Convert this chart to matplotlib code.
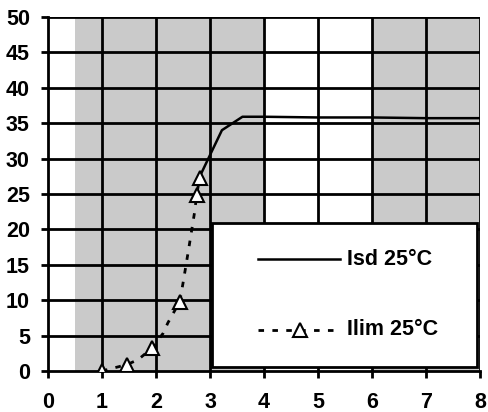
import matplotlib.pyplot as plt
from matplotlib.patches import Rectangle

plt.rcParams['font.family'] = ['Liberation Sans', 'DejaVu Sans']
plt.rcParams['font.weight'] = 'bold'

# Isd 25°C curve (solid)
isd_x = [2.8, 3.0, 3.22, 3.6, 4.0, 5.0, 6.0, 7.0, 8.0]
isd_y = [27.3, 30.5, 34.0, 35.9, 35.9, 35.8, 35.8, 35.7, 35.7]

# Ilim 25°C curve (dotted, triangles at measured points)
ilim_x = [1.0, 1.46, 1.67, 1.92, 2.13, 2.22, 2.44, 2.5, 2.6, 2.72, 2.75, 2.81]
ilim_y = [0.0, 0.9, 1.6, 3.2, 5.3, 6.8, 9.8, 12.4, 17.0, 22.7, 24.8, 27.3]
ilim_marks = [0, 1, 3, 6, 10, 11]

# shaded bands on the background
bands = [(0.5, 4.0), (6.0, 8.0)]

xticks = list(range(0, 9))
yticks = list(range(0, 55, 5))

dash = (0, (2, 3))

fig = plt.figure(figsize=(4.89, 4.12), dpi=100)
ax = fig.add_axes([0.098, 0.0995, 0.884, 0.8595])

for a, b in bands:
    ax.axvspan(a, b, color='#cacaca', zorder=0, lw=0)

for x in xticks[1:]:
    ax.axvline(x, color='black', lw=2, zorder=1)
for y in yticks[1:]:
    ax.axhline(y, color='black', lw=2, zorder=1)

ax.plot(isd_x, isd_y, color='black', lw=1.8, zorder=3)
ax.plot(ilim_x, ilim_y, color='black', lw=2, ls=dash, zorder=3,
        marker='^', markevery=ilim_marks, markersize=10,
        markerfacecolor='white', markeredgecolor='black', markeredgewidth=1.5)

# legend box
ax.add_patch(Rectangle((3.03, 0.6), 4.92, 20.3, facecolor='white',
                       edgecolor='black', lw=2, zorder=4))
ax.plot([3.89, 5.41], [15.8, 15.8], color='black', lw=1.8, zorder=5)
ax.text(5.54, 15.8, 'Isd 25°C', fontsize=15.5, fontweight='bold',
        va='center', ha='left', zorder=5)
ax.plot([3.89, 5.41], [5.8, 5.8], color='black', lw=2, ls=dash, zorder=5)
ax.plot([4.67], [5.8], marker='^', markersize=10, markerfacecolor='white',
        markeredgecolor='black', markeredgewidth=1.5, ls='none', zorder=6)
ax.text(5.54, 5.8, 'Ilim 25°C', fontsize=15.5, fontweight='bold',
        va='center', ha='left', zorder=5)

ax.set_xlim(0, 8)
ax.set_ylim(0, 50)
ax.set_xticks(xticks)
ax.set_yticks(yticks)
ax.tick_params(labelsize=15.5, width=2, length=5, direction='out')
ax.tick_params(axis='x', pad=10)
ax.tick_params(axis='y', pad=8)
for s in ['left', 'bottom']:
    ax.spines[s].set_linewidth(2)
for s in ['top', 'right']:
    ax.spines[s].set_visible(False)
ax.set_facecolor('white')

fig.savefig('out.png', dpi=100)
